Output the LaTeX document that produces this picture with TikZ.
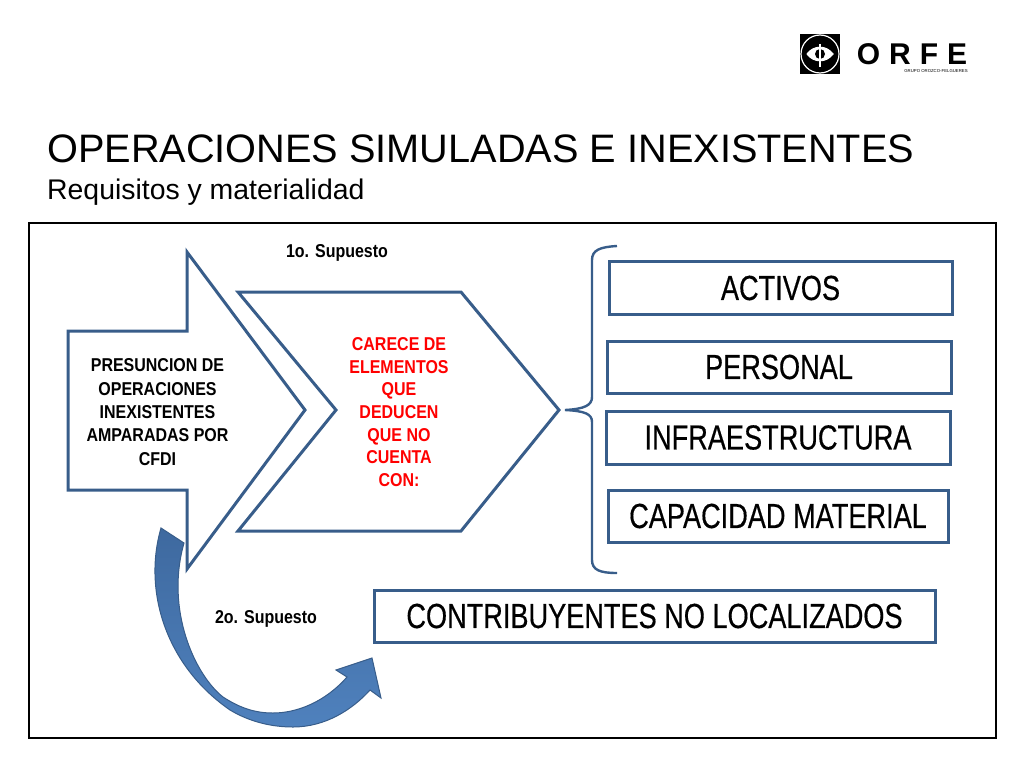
\documentclass[tikz,border=0pt]{standalone}
\usepackage{fontspec}
\setmainfont{Liberation Sans}
\newfontfamily\narrowfont[FakeStretch=0.78,FakeBold=0.4]{Liberation Sans}
\newfontfamily\semifont[FakeStretch=0.86]{Liberation Sans}
\definecolor{frameblue}{HTML}{385D8A}
\definecolor{arrowblue}{HTML}{4F81BD}
\definecolor{arrowdark}{HTML}{3E699F}
\tikzset{
    itembox/.style={draw=frameblue,line width=3pt,fill=white,inner sep=0pt,align=center,
        font=\narrowfont\fontsize{34.8}{36}\selectfont},
    boldlabel/.style={font=\semifont\bfseries\fontsize{18.6}{23.4}\selectfont,align=center,inner sep=0pt},
    shapeline/.style={draw=frameblue,line width=3pt,line join=miter,fill=white},
}
\begin{document}
\begin{tikzpicture}[x=1pt,y=-1pt]
    \useasboundingbox (0,0) rectangle (1024,768);
    % logo
    \fill[black] (800,34) rectangle (840,74);
    \draw[white,line width=1.2pt] (820,54) circle (19);
    \draw[white,line width=1.2pt,fill=white] (807,54) .. controls (814,45) and (826,45) .. (833,54) .. controls (826,63) and (814,63) .. (807,54);
    \fill[black] (820,54) circle (5);
    \draw[white,line width=1.2pt] (820,44) -- (820,67);
    \node[inner sep=0pt] (logotext) at (912,54) {\fontsize{30}{30}\selectfont\bfseries O\hspace{.3em}R\hspace{.3em}F\hspace{.3em}E};
    \node[inner sep=0pt] (logosub) at (936,71) {\fontsize{4.3}{4.3}\selectfont GRUPO OROZCO-FELGUERES};
    % title
    \node[anchor=west,inner sep=0pt] (title) at (47,149) {\fontsize{39.7}{42}\selectfont OPERACIONES SIMULADAS E INEXISTENTES};
    \node[anchor=west,inner sep=0pt] (subtitle) at (47,192) {\fontsize{28.4}{30}\selectfont Requisitos y materialidad};
    \draw[black,line width=1.3pt] (29,223) rectangle (996,738);
    % block arrows
    \draw[shapeline] (68,331) -- (187,331) -- (187,252) -- (305,410) -- (187,569) -- (187,490) -- (68,490) -- cycle;
    \draw[shapeline] (238,292) -- (461,292) -- (559,410) -- (461,531) -- (238,531) -- (336,410) -- cycle;
    \node[boldlabel] (presuncion) at (157.5,412) {PRESUNCION DE\\OPERACIONES\\INEXISTENTES\\AMPARADAS POR\\CFDI};
    \node[boldlabel,text=red,font=\semifont\bfseries\fontsize{18.6}{22.7}\selectfont] (carece) at (399,412) {CARECE DE\\ELEMENTOS\\QUE\\DEDUCEN\\QUE NO\\CUENTA\\CON:};
    \node[boldlabel] (supuesto1) at (337,253) {1o. Supuesto};
    \node[boldlabel] (supuesto2) at (266,619) {2o. Supuesto};
    % brace
    \draw[frameblue,line width=2.4pt] (617,246) .. controls (600,247) and (592,250) .. (592,260) -- (592,397)
        .. controls (592,405) and (585,409) .. (565,410) .. controls (585,411) and (592,414) .. (592,422) -- (592,560)
        .. controls (592,570) and (600,573) .. (617,573);
    % boxes
    \node[itembox,minimum width=343pt,minimum height=53pt] (activos) at (780.5,288) {ACTIVOS};
    \node[itembox,minimum width=344pt,minimum height=52pt] (personal) at (779,367) {PERSONAL};
    \node[itembox,minimum width=344pt,minimum height=53pt] (infra) at (778,437.5) {INFRAESTRUCTURA};
    \node[itembox,minimum width=340pt,minimum height=52pt] (capacidad) at (778,516) {CAPACIDAD MATERIAL};
    \node[itembox,minimum width=561pt,minimum height=52pt] (contribuyentes) at (654.5,616) {CONTRIBUYENTES NO LOCALIZADOS};
    % curved arrow
    \draw[draw=frameblue,line width=1pt,top color=arrowdark,bottom color=arrowblue,line join=miter]
        (161,528) .. controls (143,590) and (165,665) .. (230,710)
        .. controls (250,722) and (272,727) .. (293,727)
        .. controls (325,727) and (352,710) .. (370,690)
        -- (381,698) -- (372,658) -- (336,670) -- (347,677)
        .. controls (325,702) and (297,713) .. (273,713)
        .. controls (255,713) and (240,708) .. (223,697)
        .. controls (195,675) and (165,610) .. (184,543) -- cycle;
\end{tikzpicture}
\end{document}
